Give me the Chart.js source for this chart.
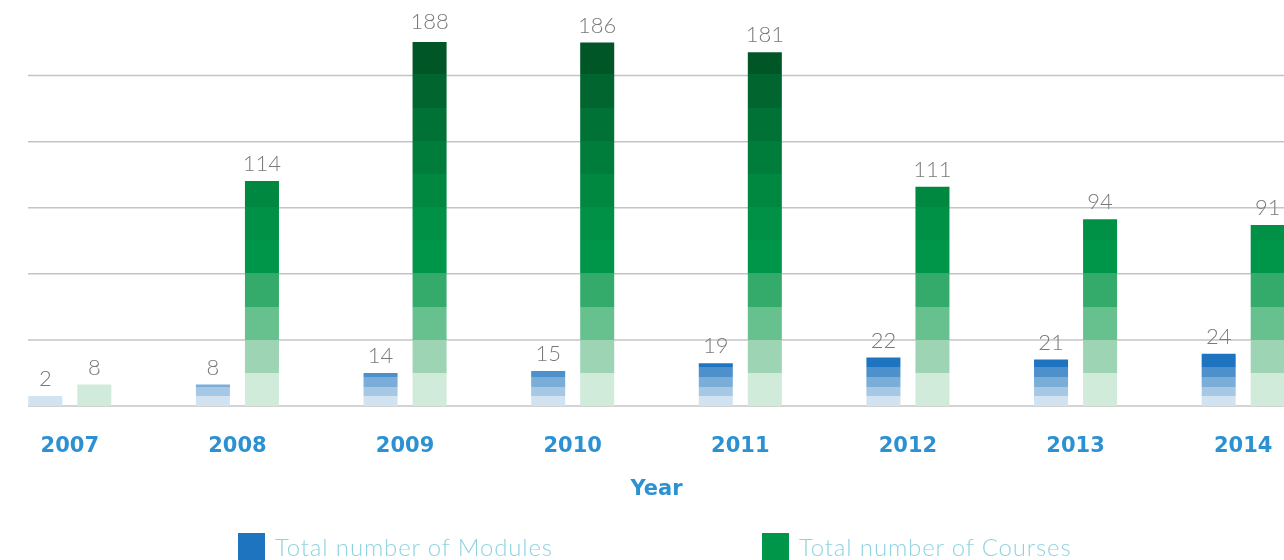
<!DOCTYPE html>
<html><head><meta charset="utf-8">
<script src="https://cdn.jsdelivr.net/npm/chart.js@4.4.1/dist/chart.umd.min.js"></script>
<style>
html,body{margin:0;padding:0;width:1284px;height:560px;overflow:hidden;background:#fff;}
#wrap{position:absolute;left:-14px;top:0;width:1341px;height:560px;}
.leg{position:absolute;top:533px;height:30px;display:flex;align-items:center;font-family:Lato,"Open Sans",sans-serif;font-weight:300;font-size:24px;letter-spacing:0.85px;color:#8ed3e0;white-space:nowrap;}
.leg .tx{position:relative;top:-2px;}
.sw{display:inline-block;width:27px;height:30px;margin-right:10px;}
</style></head><body>
<div id="wrap"><canvas id="c"></canvas></div>
<div id="legend"></div>
<script>
const YEARS = ['2007','2008','2009','2010','2011','2012','2013','2014'];
const MODULES = [2, 8, 14, 15, 19, 22, 21, 24];
const COURSES = [8, 114, 188, 186, 181, 111, 94, 91];
const SERIES_NAMES = ['Total number of Modules', 'Total number of Courses'];
const Y_MIN = -3.2, Y_MAX = 186.3;
const GRID_VALUES = [-3.2, 31.2, 65.6, 100, 134.4, 168.8];

const BLUE_BANDS = ['#d1e3f1','#a7c8e5','#7badd9','#4e90cb','#1f74bf'];
const GREEN_BANDS = ['#d1ebdb','#9dd5b4','#67c18f','#35ab6b','#00964a','#009146','#008840','#007d3a','#007235','#00652e','#005626','#004d20'];
const BLUE_BAND_UNITS = 5.03, GREEN_BAND_UNITS = 17.26;
const LEGEND_COLORS = ['#1f74bf', '#00964a'];
const LEGEND_LEFT = [238, 762];

function bands(chart, colors, unit) {
  const y = chart.scales && chart.scales.y;
  if (!chart.chartArea || !y) return colors[0];
  const n = colors.length;
  const y0 = y.getPixelForValue(Y_MIN);
  const y1 = y.getPixelForValue(Y_MIN + unit * n);
  const g = chart.ctx.createLinearGradient(0, y0, 0, y1);
  colors.forEach((c, i) => { g.addColorStop(i / n, c); g.addColorStop((i + 1) / n, c); });
  return g;
}

const gridPlugin = {
  id: 'gridLines',
  beforeDatasetsDraw(chart) {
    const {ctx, chartArea: a, scales: {y}} = chart;
    ctx.save();
    ctx.strokeStyle = '#c4c4c4';
    ctx.lineWidth = 1.5;
    GRID_VALUES.forEach(v => {
      const py = y.getPixelForValue(v);
      ctx.beginPath(); ctx.moveTo(a.left + 42, py); ctx.lineTo(a.right, py); ctx.stroke();
    });
    ctx.restore();
  },
  afterDatasetsDraw(chart) {
    const {ctx, scales: {y}} = chart;
    ctx.save();
    ctx.font = '300 22px Lato, "Open Sans", sans-serif';
    ctx.fillStyle = '#7a7a7a';
    ctx.textAlign = 'center';
    ctx.textBaseline = 'middle';
    chart.data.datasets.forEach((ds, i) => {
      chart.getDatasetMeta(i).data.forEach((el, j) => {
        const py = y.getPixelForValue(ds.data[j]);
        ctx.fillText(String(ds.data[j]), el.x, py - 17);
      });
    });
    ctx.restore();
  }
};

function build() {
  const tickFont = {family: 'DejaVu Sans', weight: 'bold', size: 21};
  const chart = new Chart(document.getElementById('c'), {
    type: 'bar',
    data: {
      labels: YEARS,
      datasets: [
        {label: SERIES_NAMES[0], data: MODULES, base: Y_MIN,
         backgroundColor: c => bands(c.chart, BLUE_BANDS, BLUE_BAND_UNITS)},
        {label: SERIES_NAMES[1], data: COURSES, base: Y_MIN,
         backgroundColor: c => bands(c.chart, GREEN_BANDS, GREEN_BAND_UNITS)}
      ]
    },
    options: {
      responsive: true, maintainAspectRatio: false, animation: false,
      layout: {padding: {top: 42, left: 0, right: 0, bottom: 0}},
      datasets: {bar: {barPercentage: 0.694, categoryPercentage: 0.585, borderWidth: 0}},
      plugins: {legend: {display: false}, tooltip: {enabled: false}},
      scales: {
        x: {
          grid: {display: false, drawTicks: false}, border: {display: false},
          ticks: {color: '#2b91d3', font: tickFont, padding: 28, maxRotation: 0, autoSkip: false},
          title: {display: true, text: 'Year', color: '#2b91d3', font: tickFont, padding: {top: 0, bottom: 58}},
          afterFit(s) { s.height = 154; }
        },
        y: {display: false, min: Y_MIN, max: Y_MAX}
      }
    },
    plugins: [gridPlugin]
  });
  const leg = document.getElementById('legend');
  chart.data.datasets.forEach((ds, i) => {
    const d = document.createElement('div');
    d.className = 'leg';
    d.style.left = LEGEND_LEFT[i] + 'px';
    const sw = document.createElement('span');
    sw.className = 'sw';
    sw.style.background = LEGEND_COLORS[i];
    d.appendChild(sw);
    const tx = document.createElement('span');
    tx.className = 'tx';
    tx.textContent = ds.label;
    d.appendChild(tx);
    leg.appendChild(d);
  });
}
Promise.all([
  document.fonts.load('300 22px Lato'),
  document.fonts.load('bold 21px "DejaVu Sans"')
]).catch(() => {}).then(build);
</script>
</body></html>
